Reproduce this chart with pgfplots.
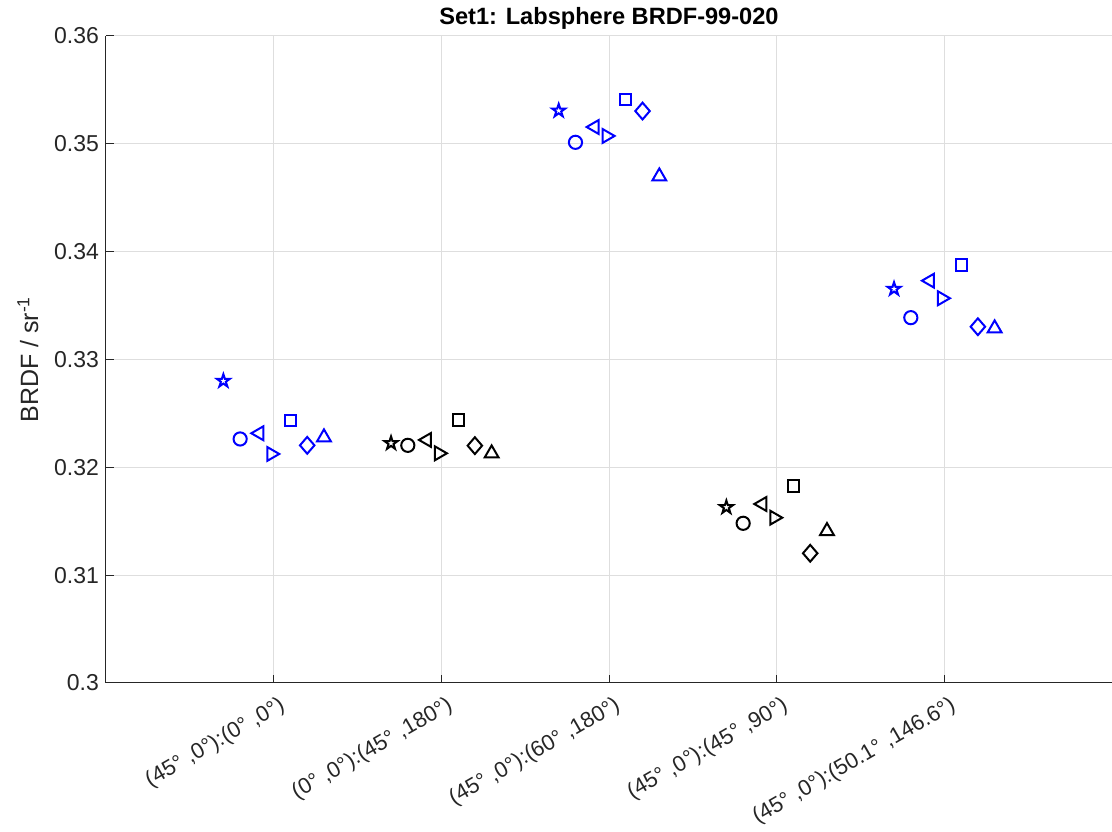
\documentclass[border=0pt]{standalone}
\usepackage{pgfplots}
\pgfplotsset{compat=1.18}
\usepackage{fontspec}
\setmainfont{Liberation Sans}
\definecolor{axgray}{rgb}{0.15,0.15,0.15}
\definecolor{gridgray}{rgb}{0.87,0.87,0.87}
\definecolor{mblue}{rgb}{0,0,1}
\pgfdeclareplotmark{pentagram}{%
  \pgfpathmoveto{\pgfqpointpolar{90}{\pgfplotmarksize}}%
  \pgfpathlineto{\pgfqpointpolar{126}{0.382\pgfplotmarksize}}%
  \pgfpathlineto{\pgfqpointpolar{162}{\pgfplotmarksize}}%
  \pgfpathlineto{\pgfqpointpolar{198}{0.382\pgfplotmarksize}}%
  \pgfpathlineto{\pgfqpointpolar{234}{\pgfplotmarksize}}%
  \pgfpathlineto{\pgfqpointpolar{270}{0.382\pgfplotmarksize}}%
  \pgfpathlineto{\pgfqpointpolar{306}{\pgfplotmarksize}}%
  \pgfpathlineto{\pgfqpointpolar{342}{0.382\pgfplotmarksize}}%
  \pgfpathlineto{\pgfqpointpolar{18}{\pgfplotmarksize}}%
  \pgfpathlineto{\pgfqpointpolar{54}{0.382\pgfplotmarksize}}%
  \pgfpathclose\pgfusepathqstroke}
\pgfplotsset{
  pstar/.style={mark=pentagram, mark size=3.4pt},
  pcirc/.style={mark=o, mark size=3.3pt},
  pltri/.style={mark=triangle, mark size=4.0pt, mark options={xshift=1.2pt, rotate=90}},
  prtri/.style={mark=triangle, mark size=4.0pt, mark options={xshift=-1.2pt, rotate=-90}},
  psq/.style={mark=square, mark size=2.8pt},
  pdia/.style={mark=diamond, mark size=4.2pt, mark options={xscale=1.15}},
  putri/.style={mark=triangle, mark size=4.0pt, mark options={yshift=-1.2pt}},
}
\begin{document}
\begin{tikzpicture}
\begin{axis}[
  name=ax,
  scale only axis,
  width=503pt, height=323.5pt,
  xmin=0, xmax=6, ymin=0.3, ymax=0.36,
  axis x line*=bottom, axis y line*=left,
  axis line style={axgray, line width=0.5pt, -},
  xtick={1,2,3,4,5},
  xticklabels={{(45° ,0°):(0° ,0°)},{(0° ,0°):(45° ,180°)},{(45° ,0°):(60° ,180°)},{(45° ,0°):(45° ,90°)},{(45° ,0°):(50.1° ,146.6°)}},
  xticklabel style={xshift=2.5pt, yshift=-4.5pt, rotate=30, anchor=north east, font=\fontsize{11}{13}\selectfont, text=axgray, inner sep=1pt},
  ytick={0.3,0.31,0.32,0.33,0.34,0.35,0.36},
  yticklabels={0.3,0.31,0.32,0.33,0.34,0.35,0.36},
  yticklabel style={font=\fontsize{11.5}{13}\selectfont, text=axgray},
  /pgf/number format/assume math mode=true,
  tick align=inside, major tick length=4pt,
  tick style={axgray, line width=0.5pt},
  grid=major, major grid style={gridgray, line width=0.5pt},
  ylabel={BRDF / sr\textsuperscript{-1}},
  ylabel style={font=\fontsize{12.5}{14}\selectfont, text=axgray, xshift=0pt, yshift=1pt},
  title={\bfseries Set1: Labsphere BRDF-99-020},
  title style={font=\fontsize{11.8}{14}\selectfont, yshift=-6pt},
  every axis plot/.append style={only marks, line width=1pt},
  clip=false,
]
% pentagram
\addplot[mblue, pstar] coordinates {(0.7,0.32801) (2.7,0.35307) (4.7,0.33654)};
\addplot[black, pstar] coordinates {(1.7,0.32223) (3.7,0.31629)};
% circle
\addplot[mblue, pcirc] coordinates {(0.8,0.32263) (2.8,0.35014) (4.8,0.33388)};
\addplot[black, pcirc] coordinates {(1.8,0.32204) (3.8,0.31481)};
% left triangle
\addplot[mblue, pltri] coordinates {(0.9,0.32316) (2.9,0.35156) (4.9,0.33731)};
\addplot[black, pltri] coordinates {(1.9,0.32254) (3.9,0.31660)};
% right triangle
\addplot[mblue, prtri] coordinates {(1.0,0.32124) (3.0,0.35073) (5.0,0.33568)};
\addplot[black, prtri] coordinates {(2.0,0.32130) (4.0,0.31533)};
% square
\addplot[mblue, psq] coordinates {(1.1,0.32432) (3.1,0.35413) (5.1,0.33876)};
\addplot[black, psq] coordinates {(2.1,0.32439) (4.1,0.31827)};
% diamond
\addplot[mblue, pdia] coordinates {(1.2,0.32204) (3.2,0.35304) (5.2,0.33304)};
\addplot[black, pdia] coordinates {(2.2,0.32201) (4.2,0.31203)};
% up triangle
\addplot[mblue, putri] coordinates {(1.3,0.32300) (3.3,0.34720) (5.3,0.33311)};
\addplot[black, putri] coordinates {(2.3,0.32151) (4.3,0.31431)};
\end{axis}
\pgfresetboundingbox
\path ([shift={(-53pt,-74.5pt)}]ax.south west) rectangle ([shift={(0pt,18pt)}]ax.north east);
\end{tikzpicture}
\end{document}
